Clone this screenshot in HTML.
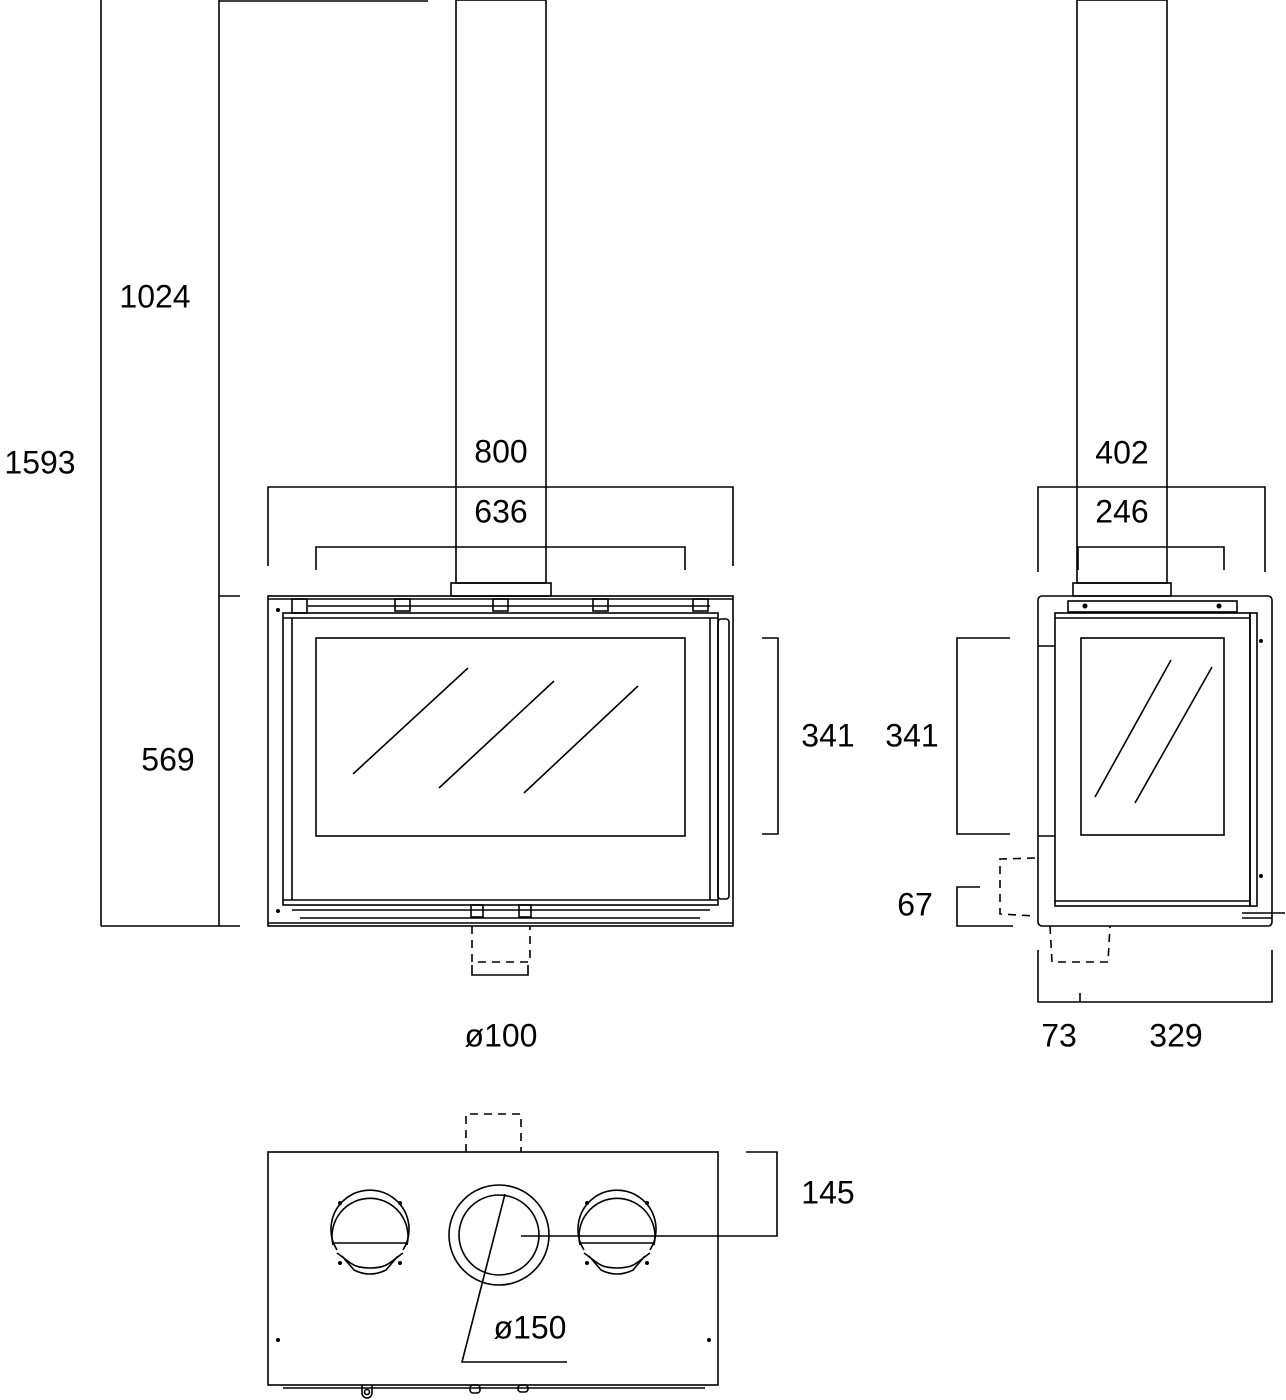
<!DOCTYPE html>
<html><head><meta charset="utf-8"><style>
html,body{margin:0;padding:0;background:#fff;}
svg{display:block}
text{font-family:"Liberation Sans",sans-serif;font-size:32px;fill:#000;text-anchor:middle;dominant-baseline:middle}
</style></head><body>
<svg width="1286" height="1400" viewBox="0 0 1286 1400" xmlns="http://www.w3.org/2000/svg">
<g fill="none" stroke="#000" stroke-width="1.6">
<line x1="101" y1="0" x2="101" y2="926"/>
<line x1="219" y1="0" x2="219" y2="926"/>
<line x1="219" y1="1" x2="428" y2="1"/>
<line x1="219" y1="596" x2="240" y2="596"/>
<line x1="101" y1="926" x2="240" y2="926"/>
<rect x="456" y="0" width="90" height="583"/>
<rect x="451" y="583" width="100" height="13"/>
<rect x="268" y="596" width="465" height="330"/>
<line x1="268" y1="599" x2="733" y2="599"/>
<line x1="268" y1="923" x2="733" y2="923"/>
<rect x="283" y="613" width="435" height="292"/>
<line x1="283" y1="618" x2="718" y2="618"/>
<line x1="283" y1="900" x2="718" y2="900"/>
<line x1="292" y1="618" x2="292" y2="900"/>
<line x1="710" y1="618" x2="710" y2="900"/>
<rect x="718" y="619" width="11" height="280" rx="3"/>
<rect x="316" y="638" width="369" height="198"/>
<line x1="353" y1="774" x2="468" y2="668"/>
<line x1="439" y1="788" x2="554" y2="681"/>
<line x1="524" y1="793" x2="638" y2="686"/>
<line x1="308" y1="606" x2="710" y2="606"/>
<rect x="292" y="599" width="15" height="14"/>
<rect x="395" y="599" width="15" height="12"/>
<rect x="493" y="599" width="15" height="12"/>
<rect x="593" y="599" width="15" height="12"/>
<rect x="693" y="599" width="15" height="12"/>
<line x1="292" y1="910" x2="710" y2="910"/>
<line x1="300" y1="918" x2="700" y2="918"/>
<rect x="471" y="905" width="12" height="12"/>
<rect x="519" y="905" width="12" height="12"/>
<polyline points="268,566 268,487 733,487 733,566"/>
<polyline points="316,570 316,547 685,547 685,570"/>
<polyline points="762,638 778,638 778,834 762,834"/>
<polyline stroke-dasharray="8,6" points="472,926 472,962 530,962 530,926"/>
<polyline points="472,965 472,975 528,975 528,965"/>
<rect x="1077" y="0" width="90" height="583"/>
<rect x="1073" y="583" width="98" height="13"/>
<rect x="1038" y="596" width="234" height="330" rx="4"/>
<rect x="1068" y="601" width="169" height="11"/>
<rect x="1055" y="613" width="195" height="293"/>
<line x1="1055" y1="618" x2="1250" y2="618"/>
<line x1="1055" y1="901" x2="1250" y2="901"/>
<line x1="1038" y1="646" x2="1055" y2="646"/>
<line x1="1038" y1="836" x2="1055" y2="836"/>
<rect x="1250" y="613" width="7" height="293"/>
<rect x="1081" y="638" width="143" height="197"/>
<line x1="1095" y1="797" x2="1171" y2="660"/>
<line x1="1135" y1="803" x2="1212" y2="667"/>
<line x1="1242" y1="913" x2="1285" y2="913"/>
<line x1="1242" y1="918" x2="1272" y2="918"/>
<polyline points="1038,572 1038,487 1265,487 1265,572"/>
<polyline points="1078,570 1078,547 1224,547 1224,570"/>
<polyline points="1010,638 957,638 957,834 1010,834"/>
<polyline points="980,887 957,887 957,926 1013,926"/>
<polyline stroke-dasharray="8,6" points="1035,858 1000,859 1000,914 1035,916"/>
<polyline stroke-dasharray="8,6" points="1050,926 1052,962 1108,962 1110,926"/>
<polyline points="1038,950 1038,1002 1272,1002 1272,950"/>
<line x1="1080" y1="993" x2="1080" y2="1002"/>
<rect x="268" y="1152" width="450" height="233"/>
<line x1="283" y1="1388" x2="705" y2="1388"/>
<polyline stroke-dasharray="8,6" points="466,1152 466,1114 521,1114 521,1152"/>
<circle cx="499" cy="1235" r="50"/>
<circle cx="499" cy="1235" r="40"/>
<path d="M333,1245 A38,38 0 1 1 407,1245"/>
<path d="M337,1250 A39,39 0 1 1 403,1250"/>
<line x1="333" y1="1243" x2="407" y2="1243"/>
<path d="M337,1253 C350,1262 352,1268 370,1268 C388,1268 390,1262 403,1253"/>
<path d="M342,1256 L354,1270 Q370,1278 386,1270 L398,1256"/>
<path d="M580,1245 A38,38 0 1 1 654,1245"/>
<path d="M584,1250 A39,39 0 1 1 650,1250"/>
<line x1="580" y1="1243" x2="654" y2="1243"/>
<path d="M584,1253 C597,1262 599,1268 617,1268 C635,1268 637,1262 650,1253"/>
<path d="M589,1256 L601,1270 Q617,1278 633,1270 L645,1256"/>
<polyline points="521,1236 777,1236 777,1152 746,1152"/>
<polyline points="505,1194 462,1362 567,1362"/>
<path d="M362,1385 v8 a5,5 0 0 0 10,0 v-8"/>
<circle cx="367" cy="1392" r="2.5"/>
<rect x="470" y="1385" width="10" height="8" rx="3"/>
<rect x="518" y="1385" width="10" height="7" rx="3"/>
</g>
<g fill="#000">
<circle cx="278" cy="1340" r="2"/><circle cx="709" cy="1340" r="2"/>
<circle cx="340" cy="1203" r="2"/><circle cx="400" cy="1203" r="2"/>
<circle cx="340" cy="1263" r="2"/><circle cx="400" cy="1263" r="2"/>
<circle cx="587" cy="1203" r="2"/><circle cx="647" cy="1203" r="2"/>
<circle cx="587" cy="1263" r="2"/><circle cx="647" cy="1263" r="2"/>
<circle cx="278" cy="610" r="2"/><circle cx="278" cy="911" r="2"/>
<circle cx="1261" cy="641" r="2"/><circle cx="1261" cy="876" r="2"/>
<circle cx="1085" cy="606" r="2.5"/><circle cx="1219" cy="606" r="2.5"/>
</g>
<text x="155" y="299">1024</text>
<text x="40" y="465">1593</text>
<text x="168" y="762">569</text>
<text x="501" y="454">800</text>
<text x="501" y="514">636</text>
<text x="828" y="738">341</text>
<text x="501" y="1038">ø100</text>
<text x="1122" y="455">402</text>
<text x="1122" y="514">246</text>
<text x="912" y="738">341</text>
<text x="915" y="907">67</text>
<text x="1059" y="1038">73</text>
<text x="1176" y="1038">329</text>
<text x="828" y="1195">145</text>
<text x="530" y="1330">ø150</text>
</svg>
</body></html>
